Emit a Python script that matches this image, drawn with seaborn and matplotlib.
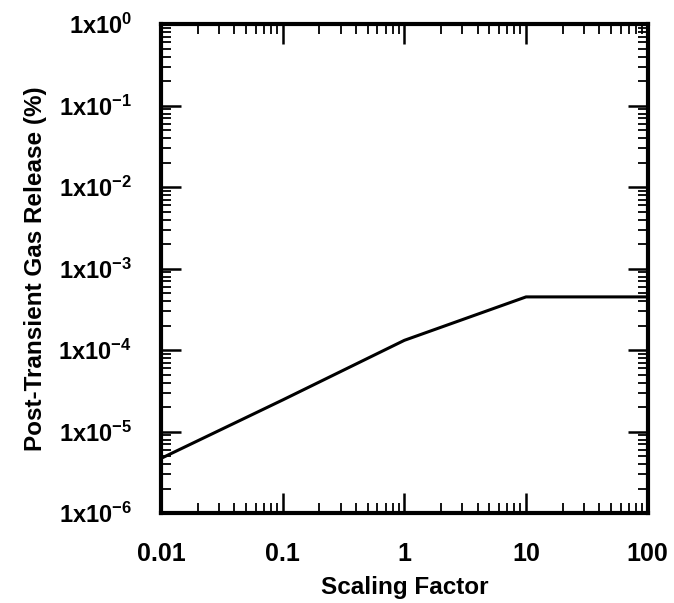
import matplotlib
matplotlib.use("Agg")
import matplotlib.pyplot as plt
import matplotlib.ticker as mticker
import seaborn as sns
import pandas as pd
import numpy as np

scaling_factor = [0.01, 0.1, 1.0, 10.0, 100.0]
gas_release = [4.7e-6, 2.45e-5, 1.32e-4, 4.5e-4, 4.5e-4]
x_ticks = [0.01, 0.1, 1, 10, 100]
x_tick_labels = ["0.01", "0.1", "1", "10", "100"]
y_ticks = [1e-6, 1e-5, 1e-4, 1e-3, 1e-2, 1e-1, 1e0]
y_tick_labels = [r"1x10$^{-6}$", r"1x10$^{-5}$", r"1x10$^{-4}$",
                 r"1x10$^{-3}$", r"1x10$^{-2}$", r"1x10$^{-1}$",
                 r"1x10$^{0}$"]

sns.set_style("white")
plt.rcParams['font.family'] = ['Liberation Sans', 'DejaVu Sans']
plt.rcParams['font.weight'] = 'bold'
plt.rcParams['mathtext.fontset'] = 'custom'
plt.rcParams['mathtext.rm'] = 'Liberation Sans:bold'
plt.rcParams['mathtext.it'] = 'Liberation Sans:bold'
plt.rcParams['mathtext.bf'] = 'Liberation Sans:bold'
plt.rcParams['mathtext.default'] = 'bf'
for k in ['text.color', 'axes.labelcolor', 'xtick.color', 'ytick.color', 'axes.edgecolor']:
    plt.rcParams[k] = 'black'

df = pd.DataFrame({"x": scaling_factor, "y": gas_release})

fig = plt.figure(figsize=(6.74, 6.03), dpi=100)
ax = fig.add_axes([0.239, 0.149, 0.722, 0.811])
sns.lineplot(data=df, x="x", y="y", ax=ax, color="black", linewidth=2.2)
ax.set_xscale("log")
ax.set_yscale("log")
ax.set_xlim(0.01, 100)
ax.set_ylim(1e-6, 1)

ax.xaxis.set_major_locator(mticker.FixedLocator(x_ticks))
ax.xaxis.set_major_formatter(mticker.FixedFormatter(x_tick_labels))
ax.yaxis.set_major_locator(mticker.FixedLocator(y_ticks))
ax.yaxis.set_major_formatter(mticker.FixedFormatter(y_tick_labels))
ax.xaxis.set_minor_locator(mticker.LogLocator(base=10, subs=np.arange(2, 10), numticks=20))
ax.yaxis.set_minor_locator(mticker.LogLocator(base=10, subs=np.arange(2, 10), numticks=20))
ax.xaxis.set_minor_formatter(mticker.NullFormatter())
ax.yaxis.set_minor_formatter(mticker.NullFormatter())

ax.tick_params(which="both", direction="in", top=True, right=True, bottom=True, left=True, color="black")
ax.tick_params(which="major", length=14.5, width=1.8)
ax.tick_params(which="minor", length=7, width=1.3)
ax.tick_params(axis="x", which="major", labelsize=18, pad=21)
ax.tick_params(axis="y", which="major", labelsize=17, pad=21)

for s in ax.spines.values():
    s.set_linewidth(3)
    s.set_color("black")

ax.set_xlabel("Scaling Factor", fontsize=17.5, fontweight="bold", labelpad=7)
ax.set_ylabel("Post-Transient Gas Release (%)", fontsize=17.5, fontweight="bold", labelpad=8)

fig.savefig("out.png", dpi=100)
